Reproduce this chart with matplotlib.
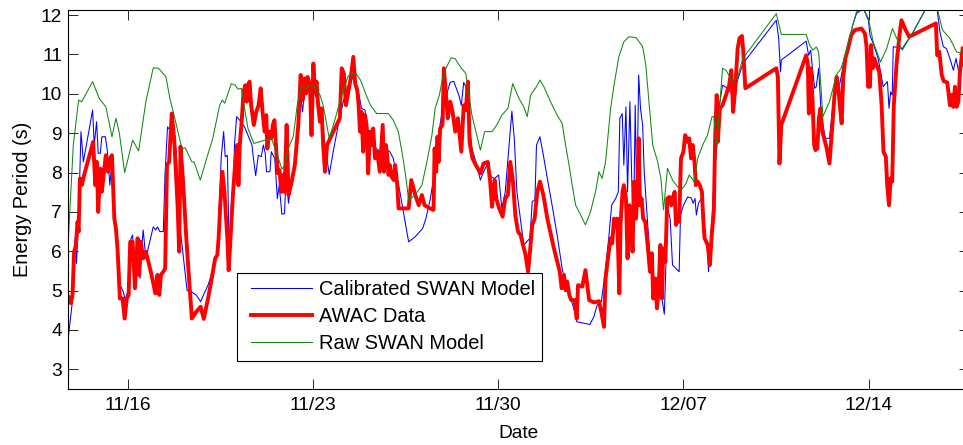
import matplotlib
matplotlib.use("Agg")
import matplotlib.pyplot as plt

plt.rcParams['font.family'] = ['Liberation Sans', 'DejaVu Sans']

# time axis in days of November (Dec d -> 30 + d)
tick_days = [16, 23, 30, 37, 44]
tick_labels = ['11/16', '11/23', '11/30', '12/07', '12/14']
y_ticks = [3, 4, 5, 6, 7, 8, 9, 10, 11, 12]

# calibrated SWAN model energy period (s)
calib_day = [13.77, 13.90, 13.98, 14.02, 14.07, 14.15, 14.24, 14.33, 14.68, 14.74, 14.83, 14.89, 14.97,
             15.03, 15.16, 15.24, 15.33, 15.40, 15.47, 15.56, 15.65, 15.72, 15.84, 15.91, 16.00, 16.13,
             16.19, 16.25, 16.34, 16.47, 16.54, 16.59, 16.69, 16.97, 17.07, 17.13, 17.22, 17.35, 17.42,
             17.51, 17.60, 17.67, 17.83, 18.00, 18.25, 18.41, 18.59, 18.76, 18.91, 19.04, 19.29, 19.41,
             19.46, 19.54, 19.63, 19.69, 19.77, 19.83, 19.89, 19.94, 19.99, 20.04, 20.12, 20.24, 20.42,
             20.57, 20.70, 20.75, 20.84, 20.94, 21.05, 21.13, 21.20, 21.25, 21.38, 21.43, 21.56, 21.66,
             21.73, 21.83, 21.93, 21.99, 22.08, 22.18, 22.32, 22.45, 22.54, 22.61, 22.70, 22.83, 22.91,
             23.04, 23.14, 23.33, 23.46, 23.62, 23.77, 23.96, 24.15, 24.34, 24.53, 24.72, 24.84, 24.97,
             25.09, 25.22, 25.41, 25.53, 25.72, 25.91, 26.04, 26.16, 26.29, 26.42, 26.62, 26.87, 27.15,
             27.27, 27.44, 27.56, 27.63, 27.75, 27.88, 28.00, 28.09, 28.19, 28.32, 28.51, 28.61, 28.70,
             28.78, 28.88, 29.01, 29.16, 29.33, 29.45, 29.61, 29.74, 29.87, 30.02, 30.14, 30.27, 30.37,
             30.52, 30.61, 30.71, 30.97, 31.20, 31.29, 31.39, 31.45, 31.58, 31.71, 31.86, 32.04, 32.23,
             32.42, 32.59, 32.74, 32.86, 32.97, 33.18, 33.47, 33.62, 33.74, 33.90, 34.06, 34.19, 34.29,
             34.44, 34.54, 34.60, 34.69, 34.75, 34.83, 34.89, 34.98, 35.06, 35.11, 35.18, 35.24, 35.31,
             35.38, 35.46, 35.52, 35.61, 35.74, 35.86, 35.99, 36.19, 36.28, 36.34, 36.40, 36.50, 36.59,
             36.72, 36.84, 36.89, 37.00, 37.16, 37.29, 37.37, 37.44, 37.49, 37.57, 37.68, 37.75, 37.81,
             37.89, 37.95, 38.04, 38.08, 38.18, 38.27, 38.36, 38.48, 38.67, 38.83, 39.02, 39.25, 40.51,
             40.60, 40.67, 40.70, 41.64, 41.73, 41.81, 41.89, 41.96, 42.02, 42.11, 42.21, 42.36, 42.52,
             42.65, 42.78, 42.90, 43.03, 43.22, 43.40, 43.54, 43.80, 43.99, 44.05, 44.17, 44.36, 44.55,
             44.64, 44.71, 44.77, 44.83, 44.89, 44.93, 45.27, 45.69, 46.19, 46.59, 46.69, 46.82, 46.94,
             47.07, 47.20, 47.30, 47.39, 47.51, 47.60]
calib_tp = [3.87, 4.63, 5.73, 6.33, 5.69, 6.83, 9.04, 8.27, 9.59, 8.70, 9.29, 8.49, 8.49,
            8.91, 8.91, 8.53, 7.68, 8.20, 7.09, 6.67, 6.07, 5.14, 4.97, 4.76, 4.97, 6.33,
            6.41, 5.65, 6.16, 5.31, 6.16, 6.54, 5.82, 6.62, 6.54, 6.62, 6.50, 6.50, 8.02,
            9.16, 9.08, 9.38, 8.60, 6.50, 5.00, 4.97, 4.89, 4.72, 4.95, 5.14, 5.65, 5.95,
            7.05, 8.40, 9.04, 8.40, 8.44, 6.28, 6.37, 7.47, 7.51, 8.70, 9.42, 9.33, 9.16,
            8.91, 8.70, 8.40, 7.92, 8.44, 8.40, 8.70, 8.49, 8.02, 8.02, 8.53, 8.36, 7.34,
            7.68, 6.94, 6.96, 7.94, 7.22, 7.77, 8.27, 9.04, 9.97, 9.54, 10.18, 10.14, 9.97,
            10.09, 9.88, 9.46, 8.70, 7.95, 8.53, 9.21, 9.80, 10.22, 10.43, 10.05, 9.63, 9.59,
            9.04, 8.70, 8.61, 8.53, 8.61, 8.53, 8.36, 7.94, 7.51, 7.00, 6.24, 6.37, 6.58,
            6.83, 7.34, 7.85, 8.66, 8.95, 9.54, 9.80, 10.07, 10.29, 10.32, 9.98, 9.71, 10.29,
            10.18, 9.54, 8.61, 8.27, 7.81, 8.02, 8.23, 7.89, 7.85, 7.94, 7.09, 7.51, 8.32,
            9.56, 8.87, 7.51, 6.16, 6.33, 7.26, 7.30, 8.70, 8.91, 8.44, 7.85, 7.17, 6.41,
            5.56, 5.06, 4.80, 4.55, 4.21, 4.18, 4.14, 4.34, 4.63, 4.72, 5.56, 6.41, 7.17,
            7.34, 7.51, 9.38, 9.50, 8.19, 9.67, 7.51, 9.80, 7.51, 6.24, 9.71, 7.17, 10.48,
            9.63, 9.21, 8.02, 7.09, 5.82, 5.40, 4.89, 4.80, 4.40, 5.65, 7.09, 6.83, 5.65,
            5.56, 5.48, 6.92, 7.16, 7.38, 7.36, 7.22, 7.34, 6.92, 7.22, 7.34, 7.17, 6.33,
            6.28, 5.48, 6.41, 6.83, 8.02, 8.70, 9.71, 10.22, 10.14, 10.01, 10.29, 10.77, 11.87,
            11.41, 10.56, 10.86, 11.34, 10.98, 11.11, 10.56, 10.14, 10.18, 10.65, 9.46, 8.87, 8.87,
            9.71, 10.31, 10.22, 10.69, 11.15, 11.75, 12.04, 12.17, 11.87, 11.49, 11.28, 10.90, 10.18,
            10.26, 10.31, 9.63, 10.05, 9.97, 11.20, 11.15, 11.58, 12.20, 12.13, 11.58, 11.20, 11.15,
            10.90, 10.60, 10.90, 10.60, 10.65, 10.90]

# AWAC measured energy period (s)
awac_day = [13.77, 13.86, 13.92, 13.98, 14.05, 14.11, 14.15, 14.20, 14.27, 14.36, 14.70, 14.78, 14.84,
            14.89, 14.97, 15.03, 15.12, 15.18, 15.26, 15.33, 15.41, 15.50, 15.56, 15.62, 15.71, 15.81,
            15.89, 15.97, 16.04, 16.10, 16.19, 16.28, 16.38, 16.44, 16.50, 16.59, 16.69, 16.88, 17.05,
            17.13, 17.20, 17.26, 17.35, 17.42, 17.49, 17.57, 17.67, 17.76, 17.89, 17.95, 18.00, 18.09,
            18.22, 18.34, 18.43, 18.59, 18.76, 18.88, 19.04, 19.16, 19.31, 19.39, 19.44, 19.51, 19.58,
            19.66, 19.77, 19.82, 19.89, 19.98, 20.07, 20.14, 20.19, 20.24, 20.32, 20.38, 20.45, 20.50,
            20.55, 20.61, 20.67, 20.77, 20.86, 20.95, 21.03, 21.11, 21.18, 21.24, 21.28, 21.35, 21.43,
            21.49, 21.55, 21.62, 21.68, 21.74, 21.81, 21.88, 21.93, 22.01, 22.08, 22.18, 22.32, 22.45,
            22.54, 22.61, 22.69, 22.74, 22.80, 22.89, 22.95, 23.02, 23.08, 23.14, 23.20, 23.27, 23.33,
            23.39, 23.46, 23.54, 23.71, 23.90, 24.02, 24.09, 24.17, 24.25, 24.34, 24.43, 24.53, 24.60,
            24.68, 24.73, 24.78, 24.84, 24.90, 24.97, 25.03, 25.09, 25.16, 25.22, 25.28, 25.35, 25.43,
            25.53, 25.64, 25.69, 25.76, 25.81, 25.86, 25.91, 25.98, 26.06, 26.11, 26.19, 26.24, 26.48,
            26.62, 26.72, 26.87, 27.00, 27.12, 27.22, 27.37, 27.56, 27.60, 27.66, 27.71, 27.75, 27.81,
            27.90, 27.95, 28.04, 28.10, 28.19, 28.28, 28.38, 28.48, 28.61, 28.70, 28.78, 28.86, 28.92,
            29.03, 29.16, 29.33, 29.45, 29.61, 29.70, 29.77, 29.87, 29.93, 30.04, 30.17, 30.27, 30.37,
            30.46, 30.56, 30.65, 30.75, 30.85, 31.04, 31.13, 31.20, 31.29, 31.38, 31.48, 31.58, 31.71,
            31.86, 32.11, 32.33, 32.40, 32.49, 32.55, 32.61, 32.69, 32.76, 32.89, 32.97, 33.02, 33.18,
            33.30, 33.37, 33.44, 33.62, 33.81, 33.90, 34.00, 34.06, 34.15, 34.25, 34.31, 34.38, 34.44,
            34.50, 34.58, 34.63, 34.70, 34.75, 34.83, 34.89, 34.96, 35.02, 35.08, 35.14, 35.21, 35.26,
            35.31, 35.36, 35.42, 35.48, 35.56, 35.65, 35.74, 35.81, 35.86, 35.94, 36.00, 36.06, 36.13,
            36.19, 36.24, 36.32, 36.39, 36.47, 36.54, 36.59, 36.67, 36.72, 36.78, 36.84, 36.91, 37.00,
            37.07, 37.16, 37.22, 37.29, 37.35, 37.42, 37.47, 37.54, 37.62, 37.70, 37.75, 37.80, 37.92,
            38.00, 38.08, 38.15, 38.20, 38.26, 38.30, 38.38, 38.48, 38.61, 38.73, 38.81, 38.88, 38.96,
            39.05, 39.12, 39.21, 39.26, 39.34, 40.51, 40.57, 40.63, 40.70, 41.64, 41.70, 41.74, 41.81,
            41.88, 41.94, 41.99, 42.06, 42.12, 42.18, 42.25, 42.40, 42.52, 42.62, 42.71, 42.79, 42.85,
            42.91, 42.98, 43.04, 43.12, 43.22, 43.34, 43.48, 43.73, 43.86, 43.92, 43.98, 44.05, 44.09,
            44.15, 44.21, 44.32, 44.40, 44.49, 44.56, 44.65, 44.70, 44.77, 44.83, 44.89, 44.95, 45.06,
            45.18, 45.24, 45.37, 45.53, 46.54, 46.59, 46.67, 46.76, 46.84, 46.97, 47.07, 47.13, 47.20,
            47.26, 47.32, 47.39, 47.45, 47.55]
awac_tp = [4.84, 4.68, 4.89, 5.99, 6.16, 6.75, 6.50, 7.85, 7.68, 7.94, 8.78, 7.68, 8.27,
           7.00, 8.10, 7.51, 8.10, 8.44, 8.02, 8.36, 8.44, 6.83, 6.58, 6.07, 4.80, 4.80,
           4.29, 4.80, 4.89, 6.24, 6.24, 5.06, 6.33, 5.40, 6.24, 5.82, 5.99, 5.48, 4.93,
           5.40, 4.89, 5.40, 5.48, 5.56, 8.19, 8.27, 9.50, 8.87, 7.17, 5.99, 8.66, 7.85,
           6.33, 5.14, 4.29, 4.46, 4.59, 4.28, 4.80, 5.23, 5.82, 5.90, 6.33, 7.26, 8.02,
           7.51, 6.33, 5.52, 6.33, 7.43, 8.27, 8.70, 7.68, 8.70, 9.38, 10.05, 10.22, 9.80,
           10.22, 10.31, 9.71, 9.21, 9.54, 9.71, 10.14, 9.46, 9.04, 9.46, 8.61, 9.04, 8.87,
           9.21, 9.33, 8.53, 7.98, 8.06, 7.51, 7.94, 7.51, 9.21, 7.43, 7.70, 8.19, 9.21,
           10.48, 9.84, 10.39, 10.01, 10.43, 10.22, 8.95, 10.77, 10.05, 10.31, 9.71, 9.29, 9.63,
           8.70, 8.02, 8.70, 8.95, 9.21, 9.38, 10.65, 10.52, 9.71, 10.05, 10.39, 10.94, 10.26,
           10.09, 9.71, 9.04, 9.54, 8.53, 9.46, 9.21, 7.98, 9.04, 8.70, 9.12, 8.36, 8.53,
           8.02, 9.21, 8.02, 8.70, 8.44, 7.94, 8.19, 7.89, 7.81, 8.19, 7.68, 7.09, 7.09,
           7.09, 7.81, 7.43, 7.17, 7.43, 7.17, 7.11, 7.05, 8.61, 8.02, 8.91, 8.27, 9.12,
           9.21, 10.65, 9.88, 9.38, 9.80, 9.54, 9.04, 9.38, 8.53, 9.71, 9.59, 10.31, 8.78,
           8.36, 8.19, 7.98, 8.23, 8.27, 7.77, 7.13, 7.81, 7.34, 7.09, 6.88, 7.34, 7.43,
           8.27, 7.77, 6.92, 6.50, 6.41, 5.90, 5.48, 5.95, 6.67, 6.83, 7.51, 7.77, 7.43,
           6.83, 6.07, 5.48, 5.06, 5.40, 5.01, 5.23, 4.89, 4.76, 4.76, 4.29, 5.14, 5.10,
           5.52, 5.14, 4.76, 4.70, 4.73, 4.46, 4.08, 5.31, 5.82, 6.33, 6.20, 6.83, 6.62,
           6.83, 4.93, 6.75, 7.51, 7.68, 7.34, 5.82, 7.17, 6.75, 5.99, 7.77, 6.83, 7.51,
           8.87, 7.17, 7.34, 6.83, 6.75, 6.16, 5.48, 5.95, 4.80, 5.31, 4.55, 4.97, 6.16,
           4.80, 6.07, 5.73, 7.34, 7.38, 7.17, 7.34, 7.51, 6.67, 6.83, 6.75, 8.36, 8.53,
           8.95, 8.78, 8.87, 8.36, 8.70, 8.27, 7.68, 7.77, 7.68, 7.51, 6.83, 6.33, 6.16,
           5.65, 6.50, 7.00, 8.87, 9.97, 8.78, 9.63, 9.71, 9.97, 10.22, 10.60, 9.54, 10.14,
           11.15, 11.41, 11.47, 11.11, 10.14, 10.65, 10.43, 8.23, 9.21, 10.98, 10.77, 9.50, 10.65,
           9.84, 8.70, 8.57, 8.61, 9.38, 9.63, 9.04, 8.66, 8.23, 9.12, 9.97, 10.43, 10.18,
           9.71, 9.25, 10.43, 10.90, 11.15, 11.49, 11.62, 11.66, 11.53, 11.20, 10.18, 10.18, 11.24,
           10.65, 10.90, 10.69, 10.56, 9.71, 8.53, 8.40, 7.68, 7.17, 7.85, 7.77, 9.71, 10.81,
           11.58, 11.87, 11.66, 11.45, 11.79, 10.98, 11.07, 10.48, 10.32, 10.29, 9.71, 9.97, 9.67,
           10.18, 9.67, 9.80, 10.56, 11.15]

# uncalibrated SWAN model energy period (s)
raw_day = [13.77, 13.95, 14.15, 14.27, 14.68, 14.93, 15.18, 15.41, 15.56, 15.69, 15.89, 16.19, 16.42,
           16.69, 16.97, 17.17, 17.45, 17.60, 17.83, 18.02, 18.09, 18.18, 18.43, 18.51, 18.75, 18.97,
           19.22, 19.48, 19.58, 19.67, 19.92, 20.07, 20.17, 20.30, 20.40, 20.55, 20.77, 21.18, 21.43,
           21.62, 21.83, 21.96, 22.06, 22.26, 22.41, 22.57, 22.76, 22.91, 23.08, 23.27, 23.39, 23.62,
           23.83, 24.09, 24.34, 24.63, 24.80, 25.01, 25.18, 25.41, 25.85, 26.04, 26.23, 26.39, 26.52,
           26.62, 26.87, 27.12, 27.31, 27.50, 27.62, 27.78, 27.90, 28.03, 28.23, 28.38, 28.61, 28.78,
           28.88, 29.01, 29.16, 29.33, 29.49, 29.77, 29.95, 30.14, 30.37, 30.55, 30.79, 30.97, 31.10,
           31.23, 31.35, 31.45, 31.58, 31.73, 31.98, 32.23, 32.42, 32.55, 32.68, 32.80, 32.93, 33.12,
           33.30, 33.49, 33.68, 33.81, 33.93, 34.06, 34.25, 34.38, 34.56, 34.75, 34.94, 35.21, 35.46,
           35.58, 35.71, 35.84, 36.03, 36.15, 36.25, 36.40, 36.59, 36.78, 36.91, 37.10, 37.22, 37.41,
           37.54, 37.73, 37.91, 38.08, 38.15, 38.26, 38.48, 38.61, 38.86, 39.05, 39.25, 40.51, 40.70,
           41.64, 41.77, 41.89, 42.02, 42.11, 42.27, 42.52, 42.78, 42.96, 43.15, 43.40, 43.54, 43.80,
           43.99, 44.17, 44.45, 44.68, 44.90, 45.06, 45.27, 45.69, 46.19, 46.59, 46.79, 47.07, 47.32,
           47.47, 47.60]
raw_tp = [6.40, 8.70, 9.84, 9.80, 10.31, 9.88, 9.67, 8.91, 9.38, 9.00, 8.00, 8.82, 8.55,
          9.80, 10.66, 10.65, 10.43, 9.88, 9.25, 8.70, 8.61, 8.63, 8.27, 8.27, 7.81, 8.32,
          8.87, 9.71, 9.84, 9.76, 10.26, 10.22, 10.12, 10.14, 9.71, 9.12, 8.74, 8.82, 8.87,
          8.53, 8.09, 8.19, 8.60, 8.91, 9.71, 10.18, 10.14, 10.22, 10.18, 9.97, 9.71, 8.87,
          9.33, 9.97, 10.46, 10.52, 10.35, 9.98, 9.71, 9.50, 9.50, 9.33, 9.04, 8.44, 7.85,
          7.30, 7.43, 7.68, 8.27, 8.95, 9.63, 9.97, 10.39, 10.65, 10.92, 10.89, 10.65, 10.52,
          10.05, 9.46, 9.04, 8.57, 9.04, 9.04, 9.21, 9.46, 9.63, 10.26, 9.88, 9.67, 9.42,
          9.97, 10.09, 10.18, 10.35, 10.18, 9.80, 9.46, 9.25, 8.70, 8.19, 7.68, 7.17, 6.92,
          6.67, 7.00, 7.51, 8.02, 7.85, 8.27, 9.63, 10.22, 10.94, 11.32, 11.45, 11.43, 11.20,
          10.73, 9.71, 8.70, 8.27, 7.85, 7.05, 8.11, 7.81, 7.64, 7.55, 7.72, 7.94, 7.77,
          8.36, 8.70, 8.95, 9.42, 9.42, 8.70, 10.65, 10.60, 10.31, 10.43, 10.90, 12.04, 11.51,
          11.51, 11.24, 11.11, 11.19, 11.07, 9.42, 9.80, 10.48, 10.65, 11.07, 11.75, 12.08, 12.17,
          11.92, 11.32, 10.81, 11.15, 11.66, 11.41, 11.11, 11.58, 12.20, 12.17, 11.62, 11.41, 11.07,
          11.03, 11.15]

fig = plt.figure(figsize=(9.63, 4.45), dpi=100)
ax = fig.add_axes([0.0709, 0.1258, 0.9353, 0.8517])

ax.plot(calib_day, calib_tp, color='#0000ff', lw=0.75, label='Calibrated SWAN Model')
ax.plot(awac_day, awac_tp, color='#ff0000', lw=2.8, label='AWAC Data')
ax.plot(raw_day, raw_tp, color='#118811', lw=0.75, label='Raw SWAN Model')

ax.set_xlim(13.76, 47.79)
ax.set_ylim(2.5, 12.13)
ax.set_xticks(tick_days)
ax.set_xticklabels(tick_labels)
ax.set_yticks(y_ticks)

ax.tick_params(direction='in', length=7, width=0.6, top=True, right=True,
               labelsize=13.8)
ax.tick_params(axis='x', pad=6)
ax.tick_params(axis='y', pad=4.5)
for s in ax.spines.values():
    s.set_linewidth(0.8)

ax.set_xlabel('Date', fontsize=13.8, labelpad=8)
ax.set_ylabel('Energy Period (s)', fontsize=14.3, labelpad=6.5)

# numpoints=2 insets the legend lines a little from the frame
leg = ax.legend(loc='upper left', bbox_to_anchor=(0.1876, 0.3069), borderaxespad=0,
                fontsize=14.4, fancybox=False, framealpha=1, edgecolor='black',
                numpoints=2, handlelength=3.65, handletextpad=0.05, borderpad=0.37,
                labelspacing=0.4)
leg.get_frame().set_linewidth(0.8)

fig.savefig('out.png', dpi=100)
